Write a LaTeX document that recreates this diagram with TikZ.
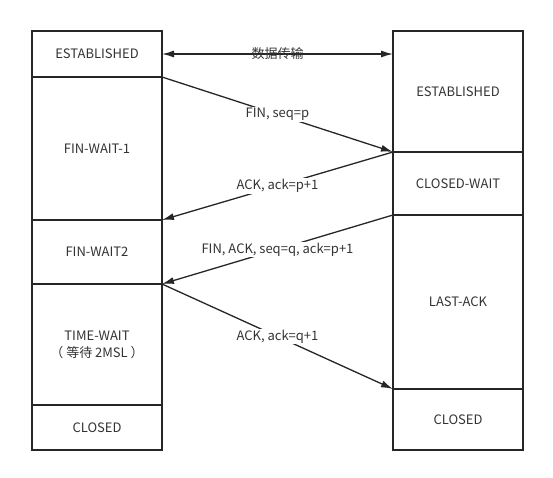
\documentclass[tikz,border=0pt]{standalone}
\usepackage{fontspec}
\setmainfont{Noto Sans CJK SC}
\usetikzlibrary{arrows.meta,positioning}
\definecolor{linegray}{HTML}{262626}
\definecolor{textgray}{HTML}{333333}
\begin{document}
\begin{tikzpicture}[x=1pt,y=-1pt,
every node/.style={text=textgray,font=\fontsize{13}{17}\selectfont},
state/.style={draw=linegray,line width=1.5pt,minimum width=130pt,outer sep=0pt,inner sep=0pt,align=center},
msg/.style={draw=linegray,line width=1.3pt,-{Latex[length=12pt,width=7pt]}},
msglabel/.style={fill=white,inner sep=1pt}]
\useasboundingbox (0,0) rectangle (553,477);
%client side
\node[state,minimum height=46pt,anchor=north west] (estA) at (32,31) {ESTABLISHED};
\node[state,minimum height=143pt,below=0pt of estA] (fin1) {FIN-WAIT-1};
\node[state,minimum height=64pt,below=0pt of fin1] (fin2) {FIN-WAIT2};
\node[state,minimum height=121pt,below=0pt of fin2] (tw) {TIME-WAIT\\（ 等待 2MSL ）};
\node[state,minimum height=45pt,below=0pt of tw] (closedA) {CLOSED};
%server side
\node[state,minimum height=121pt,anchor=north west] (estB) at (393,31) {ESTABLISHED};
\node[state,minimum height=63pt,below=0pt of estB] (cw) {CLOSED-WAIT};
\node[state,minimum height=174pt,below=0pt of cw] (lack) {LAST-ACK};
\node[state,minimum height=61pt,below=0pt of lack] (closedB) {CLOSED};
%messages
\draw[msg,{Latex[length=12pt,width=7pt]}-{Latex[length=12pt,width=7pt]}] (estA.east) -- node {数据传输} (estA.east -| estB.west);
\draw[msg] (estA.south east) -- node[msglabel] {FIN, seq=p} (estB.south west);
\draw[msg] (cw.north west) -- node[msglabel] {ACK, ack=p+1} (fin1.south east);
\draw[msg] (cw.south west) -- node[msglabel] {FIN, ACK, seq=q, ack=p+1} (fin2.south east);
\draw[msg] (tw.north east) -- node[msglabel] {ACK, ack=q+1} (lack.south west);
\end{tikzpicture}
\end{document}
